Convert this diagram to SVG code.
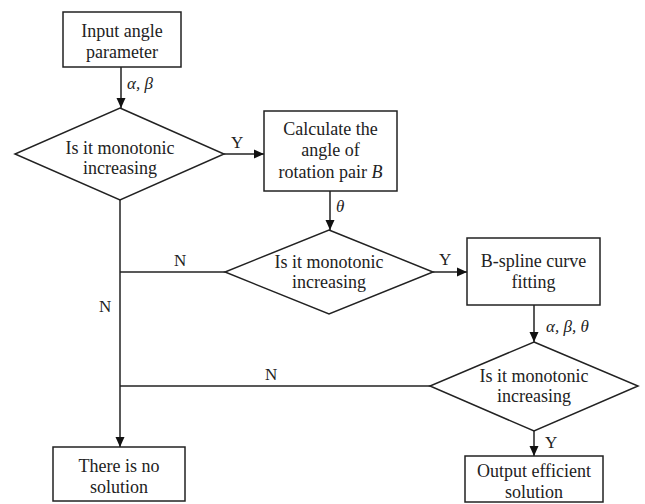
<svg xmlns="http://www.w3.org/2000/svg" width="645" height="504" viewBox="0 0 645 504">
<style>
.n{fill:#fff;stroke:#222;stroke-width:1.5}
.t{font-family:"Liberation Serif","Times New Roman",serif;font-size:18px;fill:#222;text-anchor:middle}
.l{font-family:"Liberation Serif","Times New Roman",serif;font-size:17px;fill:#222}
.i{font-style:italic}
.c{fill:none;stroke:#222;stroke-width:1.5}
</style>
<defs>
<marker id="a" markerWidth="10" markerHeight="10" refX="10" refY="5" orient="auto" markerUnits="userSpaceOnUse">
<path d="M0,0.5 L10,5 L0,9.5 Z" fill="#111"/>
</marker>
</defs>
<rect width="645" height="504" fill="#fff"/>
<g id="connectors">
<path class="c" d="M121,67 V108" marker-end="url(#a)"/>
<path class="c" d="M224,154 H264" marker-end="url(#a)"/>
<path class="c" d="M330,191 V230" marker-end="url(#a)"/>
<path class="c" d="M433,272 H467" marker-end="url(#a)"/>
<path class="c" d="M534,305 V342" marker-end="url(#a)"/>
<path class="c" d="M534,431 V456" marker-end="url(#a)"/>
<path class="c" d="M120,200 V447" marker-end="url(#a)"/>
<path class="c" d="M225,272 H120"/>
<path class="c" d="M430,386 H120"/>
<text class="l i" x="127" y="89">α, β</text>
<text class="l" x="231" y="148">Y</text>
<text class="l i" x="336" y="212">θ</text>
<text class="l" x="439" y="265">Y</text>
<text class="l" x="174" y="266">N</text>
<text class="l" x="99" y="312">N</text>
<text class="l" x="265" y="380">N</text>
<text class="l i" x="546" y="332">α, β, θ</text>
<text class="l" x="545" y="448">Y</text>
</g>
<g id="input">
<rect class="n" x="63" y="12" width="118" height="55"/>
<text class="t" x="122" y="37">Input angle</text>
<text class="t" x="122" y="58">parameter</text>
</g>
<g id="decision1">
<polygon class="n" points="120,108 224,154 120,200 15,154"/>
<text class="t" x="120" y="154">Is it monotonic</text>
<text class="t" x="120" y="174">increasing</text>
</g>
<g id="calc">
<rect class="n" x="264" y="111" width="133" height="80"/>
<text class="t" x="330.5" y="135">Calculate the</text>
<text class="t" x="330.5" y="156">angle of</text>
<text class="t" x="330.5" y="178">rotation pair <tspan class="i">B</tspan></text>
</g>
<g id="decision2">
<polygon class="n" points="329,230 433,272 329,314 225,272"/>
<text class="t" x="329" y="268">Is it monotonic</text>
<text class="t" x="329" y="288">increasing</text>
</g>
<g id="bspline">
<rect class="n" x="467" y="238" width="133" height="67"/>
<text class="t" x="533.5" y="267">B-spline curve</text>
<text class="t" x="533.5" y="288">fitting</text>
</g>
<g id="decision3">
<polygon class="n" points="534,342 638,386 534,431 430,386"/>
<text class="t" x="534" y="382">Is it monotonic</text>
<text class="t" x="534" y="402">increasing</text>
</g>
<g id="nosolution">
<rect class="n" x="53" y="447" width="132" height="54"/>
<text class="t" x="119" y="472">There is no</text>
<text class="t" x="119" y="493">solution</text>
</g>
<g id="output">
<rect class="n" x="465" y="456" width="138" height="46"/>
<text class="t" x="534" y="477">Output efficient</text>
<text class="t" x="534" y="498">solution</text>
</g>
</svg>
